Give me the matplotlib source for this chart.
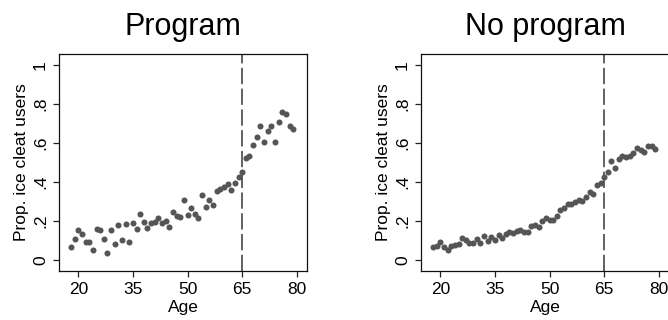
import numpy as np
import matplotlib
matplotlib.use("Agg")
import matplotlib.pyplot as plt

plt.rcParams['font.family'] = ['Liberation Sans', 'DejaVu Sans']

# data
ages = list(range(18, 80))
prog = [0.065, 0.106, 0.154, 0.133, 0.092, 0.094, 0.051, 0.161, 0.152, 0.106,
        0.036, 0.154, 0.082, 0.178, 0.104, 0.185, 0.091, 0.190, 0.159, 0.238,
        0.195, 0.162, 0.191, 0.193, 0.215, 0.191, 0.198, 0.168, 0.246, 0.226,
        0.219, 0.306, 0.232, 0.265, 0.234, 0.214, 0.335, 0.270, 0.306, 0.280,
        0.352, 0.362, 0.374, 0.391, 0.357, 0.397, 0.424, 0.453, 0.521, 0.533,
        0.591, 0.631, 0.687, 0.607, 0.662, 0.687, 0.607, 0.708, 0.761, 0.749,
        0.687, 0.672]
noprog = [0.065, 0.072, 0.092, 0.068, 0.050, 0.074, 0.076, 0.080, 0.115, 0.103,
          0.089, 0.089, 0.108, 0.089, 0.123, 0.097, 0.120, 0.104, 0.128, 0.115,
          0.133, 0.142, 0.137, 0.150, 0.152, 0.145, 0.142, 0.176, 0.178, 0.171,
          0.198, 0.214, 0.203, 0.205, 0.226, 0.256, 0.267, 0.286, 0.286, 0.297,
          0.306, 0.304, 0.323, 0.350, 0.338, 0.386, 0.397, 0.427, 0.450, 0.506,
          0.470, 0.518, 0.533, 0.528, 0.533, 0.550, 0.573, 0.564, 0.556, 0.585,
          0.585, 0.568]
titles = ["Program", "No program"]
xticks = [20, 35, 50, 65, 80]
yticks = [0, 0.2, 0.4, 0.6, 0.8, 1]
ytick_labels = ["0", ".2", ".4", ".6", ".8", "1"]
cutoff = 65

dot_col = '#555555'

fig = plt.figure(figsize=(6.68, 3.2), dpi=100)
axes = [fig.add_axes([59/668, 49/320, 248/668, 217/320]),
        fig.add_axes([421/668, 49/320, 248/668, 217/320])]

for ax, vals, ttl in zip(axes, [prog, noprog], titles):
    ax.scatter(ages, vals, s=19, color=dot_col, linewidths=0, zorder=3)
    ax.axvline(cutoff, color=dot_col, lw=1.3, linestyle=(0, (9, 2.5)), zorder=2)
    ax.set_xlim(14.7, 82.8)
    ax.set_ylim(-0.056, 1.056)
    ax.set_xticks(xticks)
    ax.set_yticks(yticks)
    ax.set_yticklabels(ytick_labels, rotation=90, va='center')
    ax.tick_params(labelsize=12.5, length=4, width=0.9, color='#222222', pad=4)
    for s in ax.spines.values():
        s.set_linewidth(0.9)
        s.set_color('#111111')
    ax.set_title(ttl, fontsize=22, pad=14)
    ax.set_xlabel("Age", fontsize=12.5, labelpad=2)
    ax.set_ylabel("Prop. ice cleat users", fontsize=12.5, labelpad=3)

fig.savefig("out.png", dpi=100)
